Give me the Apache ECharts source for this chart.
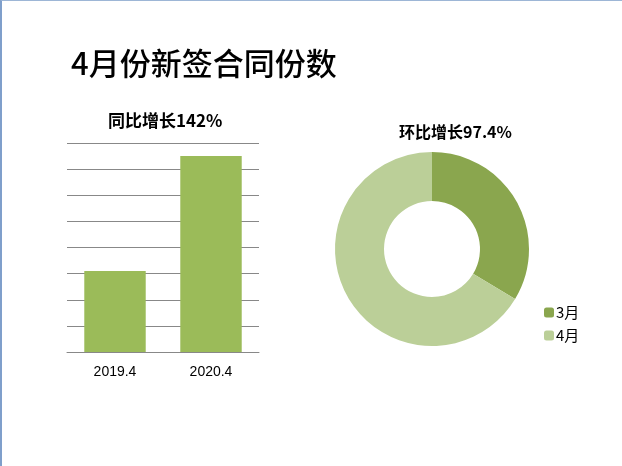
<!DOCTYPE html>
<html>
<head>
<meta charset="utf-8">
<script src="https://cdn.jsdelivr.net/npm/echarts@6/dist/echarts.min.js"></script>
<style>
html, body { margin: 0; padding: 0; background: #fff; }
#main {
	width: 620px; height: 465px;
	border-top: 1px solid #9db6d6;
	border-left: 2px solid #7f9fcb;
}
</style>
</head>
<body>
<div id="main"></div>
<script>
// 同比数据
var barCategories = ['2019.4', '2020.4'];
var barValues = [31, 75];
// 环比数据
var pieNames = ['3月', '4月'];
var pieValues = [38, 75];

var fontCn = '"Noto Sans CJK SC", "Microsoft YaHei", sans-serif';

var myChart = echarts.init(document.getElementById('main'));

var pieData = [];
for (var i = 0; i < pieNames.length; i++) {
	pieData.push({ name: pieNames[i], value: pieValues[i] });
}

myChart.setOption({
	animation: false,
	textStyle: { fontFamily: fontCn },
	title: [{
		text: '4月份新签合同份数',
		left: 64, top: 42,
		textStyle: { fontSize: 31, fontWeight: 500, color: '#000', fontFamily: fontCn }
	}, {
		text: '同比增长142%',
		left: 101, top: 106,
		textStyle: { fontSize: 17, fontWeight: 'bold', color: '#000', fontFamily: fontCn }
	}, {
		text: '环比增长97.4%',
		left: 392, top: 118,
		textStyle: { fontSize: 16, fontWeight: 'bold', color: '#000', fontFamily: fontCn }
	}],
	legend: {
		orient: 'vertical',
		left: 537, top: 299,
		itemWidth: 10, itemHeight: 10,
		itemGap: 8,
		data: pieNames,
		textStyle: { fontSize: 15, color: '#000', padding: [0, 0, 0, -3] }
	},
	grid: {
		left: 65, top: 142, width: 192, height: 209
	},
	xAxis: {
		type: 'category',
		data: barCategories,
		axisTick: { show: false },
		axisLine: { lineStyle: { color: '#888', width: 1 } },
		axisLabel: { fontSize: 14, color: '#000', margin: 13, fontFamily: 'Liberation Sans, sans-serif' }
	},
	yAxis: {
		type: 'value',
		min: 0, max: 80, interval: 10,
		axisLabel: { show: false },
		axisLine: { show: false },
		axisTick: { show: false },
		splitLine: { lineStyle: { color: '#888', width: 1 } }
	},
	series: [{
		type: 'bar',
		data: barValues,
		barCategoryGap: '36%',
		itemStyle: { color: '#9bbb59' }
	}, {
		type: 'pie',
		center: [430, 248],
		radius: [48, 97],
		startAngle: 90,
		clockwise: true,
		label: { show: false },
		labelLine: { show: false },
		itemStyle: { borderColor: '#fff', borderWidth: 0 },
		color: ['#8aa64e', '#bbcf98'],
		data: pieData
	}]
});
</script>
</body>
</html>
